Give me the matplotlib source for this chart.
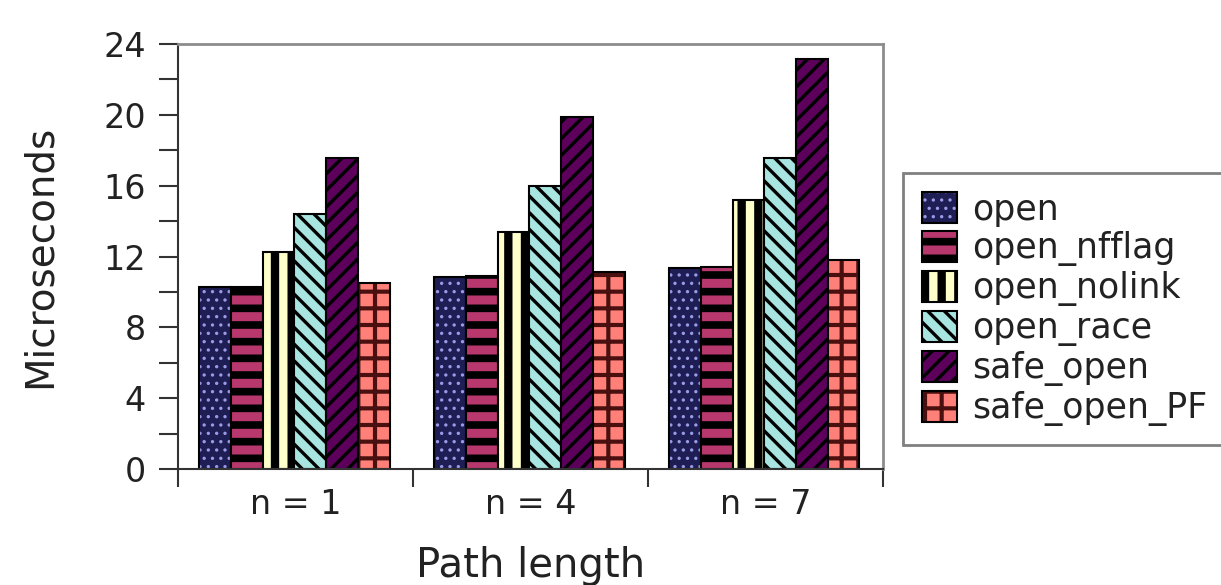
import matplotlib
matplotlib.use('Agg')
import matplotlib.pyplot as plt
import numpy as np
from matplotlib.legend_handler import HandlerPatch, HandlerTuple
from matplotlib.patches import Rectangle
from matplotlib.ticker import MultipleLocator


groups = ['n = 1', 'n = 4', 'n = 7']
series = ['open', 'open_nfflag', 'open_nolink', 'open_race', 'safe_open', 'safe_open_PF']

# microseconds
open_us = [10.25, 10.85, 11.35]
open_nfflag_us = [10.3, 10.9, 11.4]
open_nolink_us = [12.25, 13.4, 15.2]
open_race_us = [14.4, 16.0, 17.55]
safe_open_us = [17.55, 19.85, 23.15]
safe_open_pf_us = [10.5, 11.1, 11.8]
values = [open_us, open_nfflag_us, open_nolink_us, open_race_us, safe_open_us, safe_open_pf_us]

# face colour, hatch pattern, hatch colour, hatch line width
styles = {
    'open': ('#1e1e55', '..', '#9a9ae6', 1.2),
    'open_nfflag': ('#b8386e', '-', 'black', 5.5),
    'open_nolink': ('#ffffcc', '|', 'black', 6.0),
    'open_race': ('#a8e4e0', '\\\\', 'black', 2.4),
    'safe_open': ('#5c005c', '//', 'black', 2.4),
    'safe_open_PF': ('#ff8078', '+', '#4a1010', 3.0),
}

TEXT_COLOR = '#222222'


def legend_patch(legend, orig_handle, xdescent, ydescent, width, height, fontsize):
    p = Rectangle((-xdescent, -ydescent), width, height)
    if hasattr(orig_handle, 'get_hatch_linewidth'):
        p.set_hatch_linewidth(orig_handle.get_hatch_linewidth())
    return p


fig = plt.figure(figsize=(12.21, 5.85), dpi=100)
ax = fig.add_axes([178 / 1221, 1 - 469 / 585, 705 / 1221, 425 / 585])

bar_w = 0.135
x0 = np.arange(len(groups))
handles = []
handler_map = {tuple: HandlerTuple(ndivide=1, pad=0)}
for i, (name, vals) in enumerate(zip(series, values)):
    face, hatch, hcolor, hlw = styles[name]
    x = x0 + 0.09 + bar_w * (i + 0.5)
    with plt.rc_context({'hatch.linewidth': hlw}):
        fill = ax.bar(x, vals, bar_w, color=face, edgecolor=hcolor, hatch=hatch, linewidth=0)
    for p in fill:
        if hasattr(p, 'set_hatch_linewidth'):
            p.set_hatch_linewidth(hlw)
    outline = ax.bar(x, vals, bar_w, fill=False, edgecolor='black', linewidth=1.5)
    handles.append((fill[0], outline[0]))
    handler_map[fill[0]] = HandlerPatch(patch_func=legend_patch)

ax.set_xlim(0, 3)
ax.set_ylim(0, 24)
ax.set_yticks(np.arange(0, 25, 4))
ax.yaxis.set_minor_locator(MultipleLocator(2))
ax.tick_params(axis='y', which='both', direction='out', length=14, width=1.5,
               pad=9, labelsize=24, colors='#333333', labelcolor=TEXT_COLOR)
ax.set_xticks(x0 + 0.5, groups)
ax.set_xticks(np.arange(0, 4), minor=True)
ax.tick_params(axis='x', which='major', length=0, pad=14, labelsize=24, labelcolor=TEXT_COLOR)
ax.tick_params(axis='x', which='minor', direction='out', length=13, width=1.5, colors='#333333')

for side in ['top', 'right']:
    ax.spines[side].set_color('#8c8c8c')
    ax.spines[side].set_linewidth(2)
for side in ['left', 'bottom']:
    ax.spines[side].set_color('#333333')
    ax.spines[side].set_linewidth(1.5)

ax.set_ylabel('Microseconds', fontsize=28, color=TEXT_COLOR)
ax.yaxis.set_label_coords(-0.17, 0.5)
ax.set_xlabel('Path length', fontsize=29, color=TEXT_COLOR)
ax.xaxis.set_label_coords(0.5, -0.18)

leg = fig.legend(handles, series, loc='upper left', bbox_to_anchor=(903 / 1221, 1 - 173 / 585),
                 fontsize=25, handlelength=1.0, handleheight=1.0, handletextpad=0.45,
                 labelspacing=0.13, borderpad=0.55, borderaxespad=0, fancybox=False, framealpha=1,
                 edgecolor='#808080', handler_map=handler_map)
leg.get_frame().set_linewidth(2)
for t in leg.get_texts():
    t.set_color(TEXT_COLOR)

fig.savefig('out.png', dpi=100)
